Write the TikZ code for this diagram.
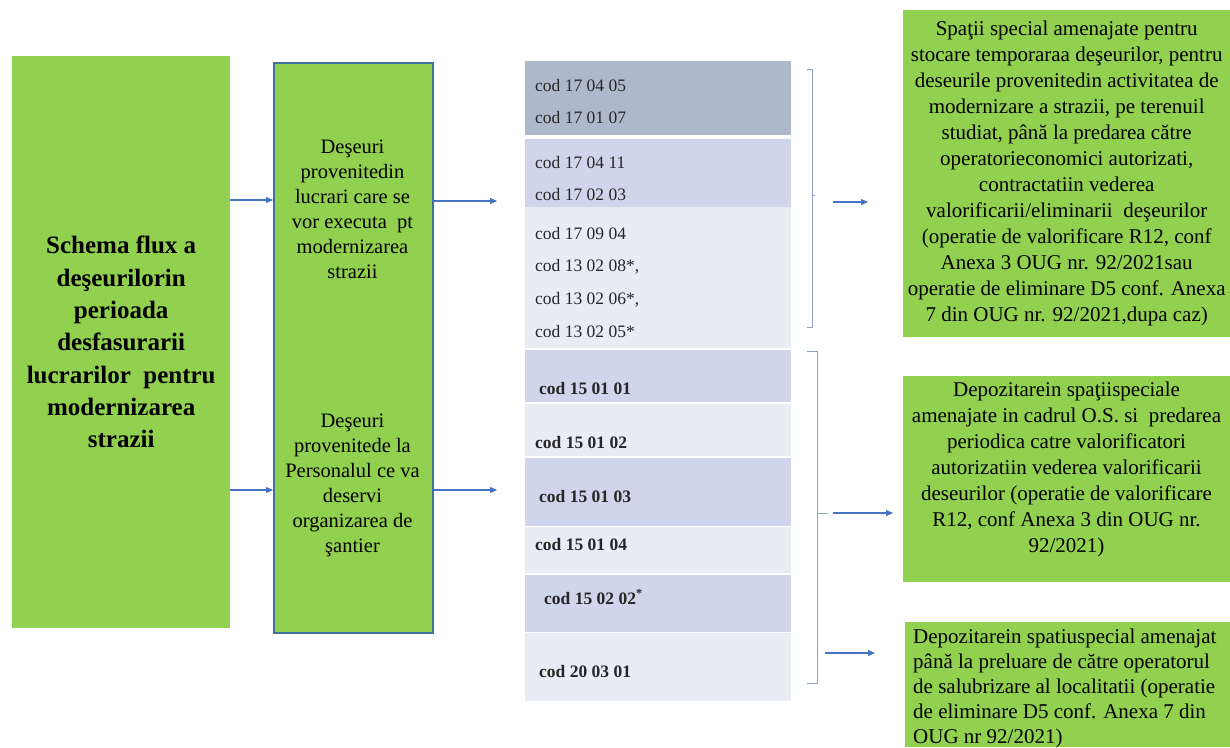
\documentclass[tikz,border=0pt]{standalone}
\usepackage{fontspec}
\setmainfont{Liberation Serif}
\usetikzlibrary{arrows.meta}
\definecolor{leafgreen}{HTML}{92D050}
\definecolor{frameblue}{HTML}{41719C}
\definecolor{flowblue}{HTML}{4472C4}
\definecolor{bracketblue}{HTML}{8FA2D4}
\definecolor{banddark}{HTML}{ADB9CA}
\definecolor{bandmid}{HTML}{CFD5EA}
\definecolor{bandlight}{HTML}{E9EBF5}
\begin{document}
\begin{tikzpicture}[x=1pt,y=-1pt,
    greenbox/.style={fill=leafgreen, inner sep=0pt, anchor=north west},
    bodytxt/.style={font=\fontsize{21}{26}\selectfont, align=center, inner sep=0pt},
    srctxt/.style={font=\fontsize{20.5}{25}\selectfont, align=center, inner sep=0pt},
    codetxt/.style={font=\fontsize{17.5}{20}\selectfont, anchor=west, inner sep=0pt, text=black!85},
    boldcode/.style={codetxt, font=\fontsize{17.5}{20}\selectfont\bfseries},
    flow/.style={draw=flowblue, line width=1.1pt, -{Triangle[length=7pt,width=6pt]}},
    bracket/.style={draw=bracketblue, line width=1pt}]
    \useasboundingbox (0,0) rectangle (1230,747);

    % left boxes
    \node[greenbox, minimum width=218, minimum height=572,
          font=\fontsize{25}{32.3}\selectfont\bfseries, align=center] (title) at (12,56)
          {Schema flux a\\deşeurilorin\\perioada\\desfasurarii\\lucrarilor\ \ pentru\\modernizarea\\strazii};
    \node[greenbox, draw=frameblue, line width=2pt, minimum width=159, minimum height=570] (frame) at (273,62) {};
    \node[srctxt] (src1) at (352.5,209.5) {Deşeuri\\provenitedin\\lucrari care se\\vor executa\ \ pt\\modernizarea\\strazii};
    \node[srctxt] (src2) at (352.5,485) {Deşeuri\\provenitede la\\Personalul ce va\\deservi\\organizarea de\\şantier};

    % codes column
    \foreach \ya/\yb/\shade in {61/135/banddark, 139/207/bandmid, 207/348/bandlight,
        350/402/bandmid, 404/456/bandlight, 458/526/bandmid, 527/573/bandlight,
        575/632/bandmid, 633/701/bandlight}
        \fill[\shade] (525,\ya) rectangle (791,\yb);
    \foreach \txt/\yy [count=\i] in {cod 17 04 05/86, cod 17 01 07/118, cod 17 04 11/163,
        cod 17 02 03/195, cod 17 09 04/234, {cod 13 02 08*,}/267, {cod 13 02 06*,}/300,
        cod 13 02 05*/332}
        \node[codetxt] (code\i) at (535,\yy) {\txt};
    \foreach \txt/\xx/\yy [count=\i from 9] in {cod 15 01 01/539/389, cod 15 01 02/535/443,
        cod 15 01 03/539/497, cod 15 01 04/535/545, cod 15 02 02\textsuperscript{*}/544/597, cod 20 03 01/539/672}
        \node[boldcode] (code\i) at (\xx,\yy) {\txt};

    % brackets
    \draw[bracket] (807,69) -- (812,69) -- (812,327) -- (807,327);
    \draw[bracket] (812,195) -- (815,195);
    \draw[bracket] (807,351) -- (817,351) -- (817,683) -- (807,683);
    \draw[bracket] (817,513) -- (828,513);

    % right boxes
    \node[greenbox, minimum width=327, minimum height=327, bodytxt] (store) at (903,10)
          {Spaţii special amenajate pentru\\stocare temporaraa deşeurilor, pentru\\deseurile provenitedin activitatea de\\modernizare a strazii, pe terenuil\\studiat, până la predarea către\\operatorieconomici autorizati,\\contractatiin vederea\\valorificarii/eliminarii\ \ deşeurilor\\(operatie de valorificare R12, conf\\Anexa 3 OUG nr. 92/2021sau\\operatie de eliminare D5 conf. Anexa\\7 din OUG nr. 92/2021,dupa caz)};
    \node[greenbox, minimum width=327, minimum height=206] (depot) at (903,376) {};
    \node[bodytxt] (depottxt) at (1066.5,469)
          {Depozitarein spaţiispeciale\\amenajate in cadrul O.S. si\ \ predarea\\periodica catre valorificatori\\autorizatiin vederea valorificarii\\deseurilor (operatie de valorificare\\R12, conf Anexa 3 din OUG nr.\\92/2021)};
    \node[greenbox, minimum width=325, minimum height=125] (collect) at (905,622) {};
    \node[bodytxt, font=\fontsize{21}{25}\selectfont, align=left, anchor=north west] (collecttxt) at (913,629)
          {Depozitarein spatiuspecial amenajat\\până la preluare de către operatorul\\de salubrizare al localitatii (operatie\\de eliminare D5 conf. Anexa 7 din\\OUG nr 92/2021)};

    % arrows
    \coordinate (ya) at (0,200);
    \coordinate (yb) at (0,490);
    \coordinate (codesA) at (497,201);
    \coordinate (codesB) at (497,490);
    \draw[flow] (title.east |- ya) -- (frame.west |- ya);
    \draw[flow] (title.east |- yb) -- (frame.west |- yb);
    \draw[flow] (frame.east |- codesA) -- (codesA);
    \draw[flow] (frame.east |- codesB) -- (codesB);
    \coordinate (brA) at (833,202);
    \coordinate (brB) at (833,513);
    \coordinate (brC) at (825,653);
    \draw[flow, shorten >=35pt] (brA) -- (store.west |- brA);
    \draw[flow, shorten >=10pt] (brB) -- (depot.west |- brB);
    \draw[flow, shorten >=30pt] (brC) -- (collect.west |- brC);
\end{tikzpicture}
\end{document}
